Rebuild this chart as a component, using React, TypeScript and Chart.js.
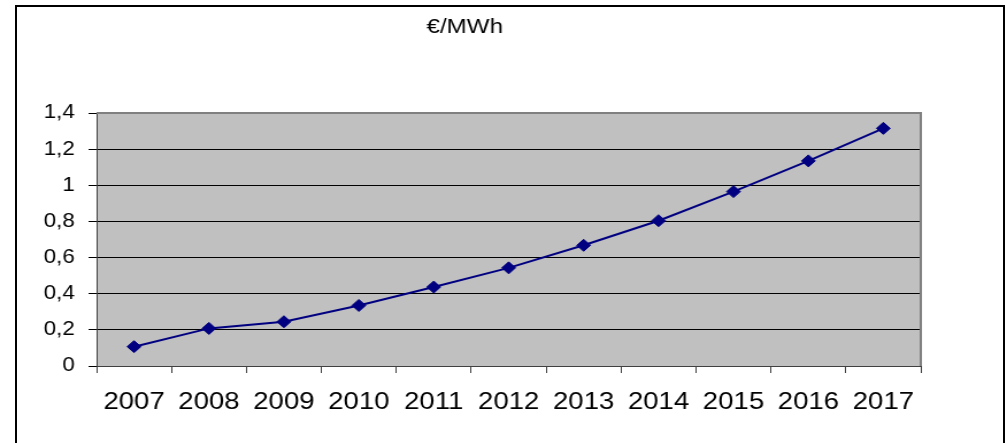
import React, { useEffect, useRef } from 'react';
import { Chart, registerables } from 'chart.js';

Chart.register(...registerables);

const years = ['2007', '2008', '2009', '2010', '2011', '2012', '2013', '2014', '2015', '2016', '2017'];
const values = [0.107, 0.208, 0.245, 0.335, 0.437, 0.543, 0.668, 0.804, 0.965, 1.135, 1.315];
const yTickLabels = ['0', '0,2', '0,4', '0,6', '0,8', '1', '1,2', '1,4'];
const titleText = '€/MWh';

const PAGE_W = 1007;
const PAGE_H = 443;
const SX = 1.15;
const CANVAS_W = Math.round(PAGE_W / SX);
const FONT = '"Liberation Sans", Arial, sans-serif';

const decoPlugin = {
  id: 'deco',
  beforeDraw(chart: any) {
    const { ctx, chartArea: a } = chart;
    ctx.save();
    ctx.fillStyle = '#C0C0C0';
    ctx.fillRect(a.left, a.top, a.right - a.left, a.bottom - a.top);
    ctx.restore();
  },
  beforeDatasetsDraw(chart: any) {
    const { ctx, chartArea: a } = chart;
    ctx.save();
    ctx.strokeStyle = '#808080';
    ctx.lineWidth = 2;
    ctx.beginPath();
    ctx.moveTo(a.left, a.top);
    ctx.lineTo(a.right, a.top);
    ctx.lineTo(a.right, a.bottom);
    ctx.stroke();
    ctx.restore();
  },
  afterDraw(chart: any) {
    const { ctx } = chart;
    ctx.save();
    ctx.fillStyle = '#000';
    ctx.font = `21px ${FONT}`;
    ctx.textAlign = 'center';
    ctx.textBaseline = 'middle';
    ctx.fillText(titleText, 465 / SX, 27);
    ctx.restore();
  },
};

export default function App() {
  const canvasRef = useRef<HTMLCanvasElement | null>(null);

  useEffect(() => {
    if (!canvasRef.current) return;
    const chart = new Chart(canvasRef.current, {
      type: 'line',
      data: {
        labels: years,
        datasets: [
          {
            data: values,
            borderColor: '#000080',
            borderWidth: 2,
            backgroundColor: '#000080',
            pointStyle: 'rectRot',
            pointRadius: 6,
            pointHoverRadius: 6,
            pointBackgroundColor: '#000080',
            pointBorderColor: '#000080',
            pointBorderWidth: 1,
            tension: 0,
            fill: false,
          },
        ],
      },
      options: {
        animation: false,
        responsive: false,
        devicePixelRatio: 1,
        events: [],
        layout: { padding: { top: 113, right: 75, bottom: 0, left: 0 } },
        plugins: {
          legend: { display: false },
          tooltip: { enabled: false },
          title: { display: false },
        },
        scales: {
          x: {
            type: 'category',
            offset: true,
            grid: {
              offset: true,
              drawOnChartArea: false,
              drawTicks: true,
              tickLength: 7,
              color: '#404040',
            },
            border: { display: true, color: '#404040', width: 1 },
            ticks: {
              color: '#000',
              font: { family: FONT, size: 24 },
              padding: 15,
              maxRotation: 0,
              autoSkip: false,
            },
            afterFit: (s: any) => {
              s.height = 77;
            },
          },
          y: {
            min: 0,
            max: 1.4,
            grid: {
              color: (c: any) => (c.tick && c.tick.value >= 1.39 ? '#808080' : '#000'),
              tickColor: '#000',
              drawTicks: true,
              tickLength: 7,
              lineWidth: 1,
            },
            border: { display: true, color: '#404040', width: 1 },
            ticks: {
              stepSize: 0.2,
              color: '#000',
              font: { family: FONT, size: 19.5 },
              padding: 12,
              callback: (_v: any, i: number) => yTickLabels[i],
            },
            afterFit: (s: any) => {
              s.width = 84;
            },
          },
        },
      },
      plugins: [decoPlugin],
    });
    return () => chart.destroy();
  }, []);

  return (
    <div
      style={{
        position: 'absolute',
        left: 0,
        top: 0,
        width: PAGE_W,
        height: PAGE_H,
        overflow: 'hidden',
        background: '#fff',
      }}
    >
      <canvas
        ref={canvasRef}
        width={CANVAS_W}
        height={PAGE_H}
        style={{ width: `${PAGE_W}px`, height: `${PAGE_H}px`, display: 'block' }}
      />
      <div
        style={{
          position: 'absolute',
          left: 15,
          top: 5,
          width: 990,
          height: 470,
          border: '2px solid #000',
          boxSizing: 'border-box',
          pointerEvents: 'none',
        }}
      />
    </div>
  );
}
